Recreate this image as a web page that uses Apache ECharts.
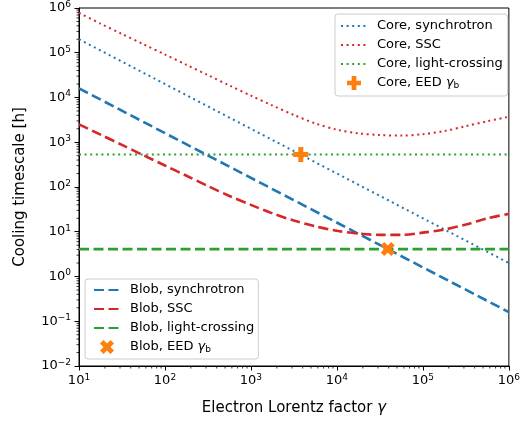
<!DOCTYPE html>
<html><head><meta charset="utf-8">
<script src="https://cdn.jsdelivr.net/npm/echarts@6/dist/echarts.min.js"></script>
<style>html,body{margin:0;padding:0;background:#fff}#c{width:523px;height:421px}</style>
</head><body><div id="c"></div><script>
// ---- data ----
const gammaGrid = [10, 17.8, 31.6, 56.2, 100, 178, 316, 562, 1e3, 1.78e3, 3.16e3, 5.62e3,
  1e4, 1.78e4, 3.16e4, 5.62e4, 1e5, 1.78e5, 3.16e5, 5.62e5, 1e6];
const gammaEnds = [10, 1e6];
const coreSync = [2.0e5, 2.0];
const coreSSC = [7.76e5, 4.47e5, 2.63e5, 1.55e5, 9.12e4, 5.37e4, 3.16e4, 1.86e4, 1.10e4, 6.61e3,
  4.07e3, 2.63e3, 1.91e3, 1.58e3, 1.45e3, 1.41e3, 1.51e3, 1.78e3, 2.29e3, 2.95e3, 3.72e3];
const coreLC = [530, 530];
const coreBreakGamma = [3800];
const coreBreakTime = [530];
const blobSync = [1.6e4, 0.16];
const blobSSC = [2512, 1479, 871, 513, 302, 178, 105, 63.1, 39.8, 25.7, 17.8, 13.2,
  10.5, 9.12, 8.51, 8.51, 9.55, 11.2, 14.5, 20.0, 25.1];
const blobLC = [4.1, 4.1];
const blobBreakGamma = [39000];
const blobBreakTime = [4.1];
const xTickExps = [1, 2, 3, 4, 5, 6];
const yTickExps = [-2, -1, 0, 1, 2, 3, 4, 5, 6];
const xTickLabels = xTickExps.map(e => '10{sup|' + e + '}');
const yTickLabels = yTickExps.map(e => '10{sup|' + String(e).replace('-', '\u2212') + '}');

const BLUE = '#1f77b4', RED = '#d62728', GREEN = '#2ca02c', ORANGE = '#ff7f0e';
const FONT = 'DejaVu Sans';
const PLUS = 'path://M-1,-3L1,-3L1,-1L3,-1L3,1L1,1L1,3L-1,3L-1,1L-3,1L-3,-1L-1,-1Z';
const XMARK = 'path://M2,-4L4,-2L2,0L4,2L2,4L0,2L-2,4L-4,2L-2,0L-4,-2L-2,-4L0,-2Z';

const zip = (xs, ys) => xs.map((x, i) => [x, ys[i]]);

// minor tick positions (2..9 x 10^n) – axis decoration
const minorX = [], minorY = [];
for (let n = 1; n < 6; n++) for (let k = 2; k <= 9; k++) minorX.push([k * Math.pow(10, n), 1]);
for (let n = -2; n < 6; n++) for (let k = 2; k <= 9; k++) minorY.push([10, k * Math.pow(10, n)]);

function labelFor(list, exps) {
  return v => { const e = Math.round(Math.log10(v)); const i = exps.indexOf(e); return i >= 0 ? list[i] : ''; };
}

const dotted = [2, 3.6], dashed = [10, 4.5];
function lineSeries(name, xs, ys, color, type, width, smooth) {
  return { name, type: 'line', data: zip(xs, ys), showSymbol: false, symbol: 'none', smooth: smooth || false,
    lineStyle: { color, width, type, cap: 'butt' }, itemStyle: { color }, z: 3 };
}

const richLeg = {
  i: { fontFamily: FONT, fontSize: 13, fontStyle: 'italic', color: '#000', lineHeight: 14 },
  sub: { fontFamily: FONT, fontSize: 9, color: '#000', verticalAlign: 'bottom', lineHeight: 10, padding: [5, 0, 0, 0] }
};
const legFmt = n => n.replace('γ_b', '{i|γ}{sub|b}');
const lineItem = n => ({ name: n, itemStyle: { opacity: 0 } });
const legCommon = {
  orient: 'vertical', itemWidth: 26, itemHeight: 14, itemGap: 5,
  backgroundColor: 'rgba(255,255,255,0.8)', borderColor: '#cccccc', borderWidth: 1, borderRadius: 3,
  textStyle: { fontFamily: FONT, fontSize: 13, color: '#000', lineHeight: 14, padding: [0, 0, 0, 5], rich: richLeg },
  formatter: legFmt, selectedMode: false
};

const tickRich = {
  sup: { fontFamily: FONT, fontSize: 9, color: '#000', verticalAlign: 'top', lineHeight: 9 }
};

const option = {
  animation: false,
  backgroundColor: '#fff',
  grid: { left: 79, right: 10, top: 8, bottom: 55, show: true, borderColor: '#000', borderWidth: 1, containLabel: false },
  xAxis: {
    type: 'log', logBase: 10, min: 10, max: 1e6, splitNumber: 5,
    name: 'Electron Lorentz factor {i|γ}', nameLocation: 'middle', nameGap: 35,
    nameTextStyle: { fontFamily: FONT, fontSize: 15, color: '#000', rich: { i: { fontFamily: FONT, fontSize: 15, fontStyle: 'italic', color: '#000' } } },
    axisLine: { show: true, lineStyle: { color: '#000', width: 1 } },
    axisTick: { show: true, length: 4.5, lineStyle: { color: '#000', width: 1 } },
    splitLine: { show: false },
    axisLabel: { fontFamily: FONT, fontSize: 13, color: '#000', margin: 7, lineHeight: 16, formatter: labelFor(xTickLabels, xTickExps), rich: tickRich, showMinLabel: true, showMaxLabel: true, hideOverlap: false }
  },
  yAxis: {
    type: 'log', logBase: 10, min: 0.01, max: 1e6, splitNumber: 8,
    name: 'Cooling timescale [h]', nameLocation: 'middle', nameGap: 51,
    nameTextStyle: { fontFamily: FONT, fontSize: 15, color: '#000' },
    axisLine: { show: true, lineStyle: { color: '#000', width: 1 } },
    axisTick: { show: true, length: 4.5, lineStyle: { color: '#000', width: 1 } },
    splitLine: { show: false },
    axisLabel: { fontFamily: FONT, fontSize: 13, color: '#000', margin: 8, lineHeight: 16, formatter: labelFor(yTickLabels, yTickExps), rich: tickRich, showMinLabel: true, showMaxLabel: true, hideOverlap: false }
  },
  legend: [
    Object.assign({}, legCommon, { left: 335, top: 14, padding: [5, 5, 6, 5],
      data: [lineItem('Core, synchrotron'), lineItem('Core, SSC'), lineItem('Core, light-crossing'), 'Core, EED γ_b'] }),
    Object.assign({}, legCommon, { left: 85, top: 279, padding: [4, 4, 5, 8],
      data: [lineItem('Blob, synchrotron'), lineItem('Blob, SSC'), lineItem('Blob, light-crossing'), 'Blob, EED γ_b'] })
  ],
  series: [
    lineSeries('Core, synchrotron', gammaEnds, coreSync, BLUE, dotted, 2),
    lineSeries('Core, SSC', gammaGrid, coreSSC, RED, dotted, 2, 0.3),
    lineSeries('Core, light-crossing', gammaEnds, coreLC, GREEN, dotted, 2),
    lineSeries('Blob, synchrotron', gammaEnds, blobSync, BLUE, dashed, 2.6),
    lineSeries('Blob, SSC', gammaGrid, blobSSC, RED, dashed, 2.6, 0.3),
    lineSeries('Blob, light-crossing', gammaEnds, blobLC, GREEN, dashed, 2.6),
    { name: 'Core, EED γ_b', type: 'scatter', data: zip(coreBreakGamma, coreBreakTime), symbol: PLUS, symbolSize: 15,
      itemStyle: { color: ORANGE, opacity: 1 }, z: 5 },
    { name: 'Blob, EED γ_b', type: 'scatter', data: zip(blobBreakGamma, blobBreakTime), symbol: XMARK, symbolSize: 14,
      itemStyle: { color: ORANGE, opacity: 1 }, z: 5 },
    { type: 'custom', data: minorX, clip: false, silent: true, z: 2,
      renderItem: (p, api) => { const c = api.coord([api.value(0), 0.01]);
        return { type: 'line', shape: { x1: c[0], y1: c[1], x2: c[0], y2: c[1] + 2.5 }, style: { stroke: '#000', lineWidth: 0.8 } }; } },
    { type: 'custom', data: minorY, clip: false, silent: true, z: 2,
      renderItem: (p, api) => { const c = api.coord([10, api.value(1)]);
        return { type: 'line', shape: { x1: c[0], y1: c[1], x2: c[0] - 2.5, y2: c[1] }, style: { stroke: '#000', lineWidth: 0.8 } }; } }
  ]
};
const chart = echarts.init(document.getElementById('c'), null, { renderer: 'canvas' });
chart.setOption(option);
</script></body></html>
